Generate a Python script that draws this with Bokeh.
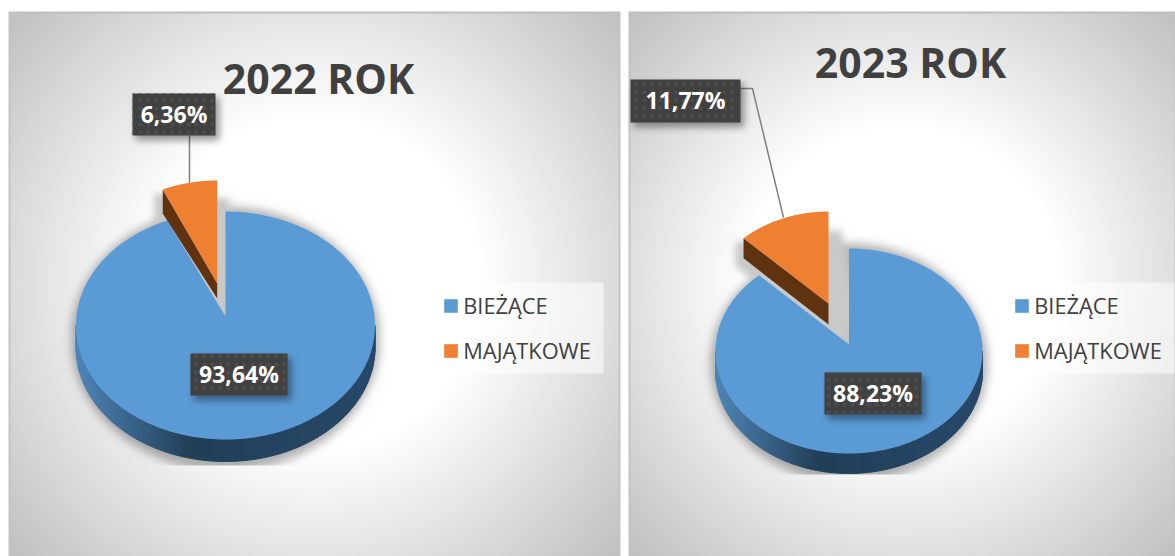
import numpy as np
from bokeh.plotting import figure
from bokeh.layouts import row
from bokeh.models import Range1d, Legend, LegendItem
from bokeh.core.properties import value
from bokeh.embed import file_html
from bokeh.resources import INLINE

categories = ["BIEŻĄCE", "MAJĄTKOWE"]
values_2022 = [93.64, 6.36]
values_2023 = [88.23, 11.77]
titles = ["2022 ROK", "2023 ROK"]

BLUE, ORANGE, BROWN = "#5b9bd5", "#ef7f31", "#5f3210"
FONT = "Open Sans"
PAGE_H = 556


def Y(py):
    return PAGE_H - np.asarray(py, dtype=float)


def arc(cx, cy, rx, ry, t0, t1, n=160):
    t = np.radians(np.linspace(t0, t1, n))
    return cx + rx * np.sin(t), cy - ry * np.cos(t)


def blur(a, r):
    for _ in range(3):
        k = np.ones(2 * r + 1) / (2 * r + 1)
        a = np.apply_along_axis(lambda v: np.convolve(v, k, mode="same"), 0, a)
        a = np.apply_along_axis(lambda v: np.convolve(v, k, mode="same"), 1, a)
    return a


def poly_mask(X, Yp, pts):
    inside = np.zeros(X.shape, dtype=bool)
    n = len(pts)
    for i in range(n):
        x1, y1 = pts[i]
        x2, y2 = pts[(i + 1) % n]
        cond = (y1 > Yp) != (y2 > Yp)
        xc = (x2 - x1) * (Yp - y1) / (y2 - y1 + 1e-9) + x1
        inside ^= cond & (X < xc)
    return inside


def to_rgba(r, g, b, a):
    out = np.zeros(r.shape + (4,), dtype=np.uint8)
    out[..., 0], out[..., 1], out[..., 2] = r, g, b
    out[..., 3] = a
    return out.view(np.uint32).reshape(r.shape)[::-1]


def mix(c1, c2, f):
    c1 = np.array([int(c1[i:i + 2], 16) for i in (1, 3, 5)])
    c2 = np.array([int(c2[i:i + 2], 16) for i in (1, 3, 5)])
    c = (c1 + (c2 - c1) * f).astype(int)
    return "#%02x%02x%02x" % tuple(c)


def panel(title, vals, g):
    x0, x1 = g["fig"]
    w, h = x1 - x0, PAGE_H
    p = figure(width=w, height=h, x_range=Range1d(x0, x1), y_range=Range1d(0, h),
               output_backend="svg", toolbar_location=None, min_border=0,
               outline_line_color=None, background_fill_color="white", border_fill_color="white")
    p.axis.visible = False
    p.grid.visible = False

    X, P = np.meshgrid(np.arange(x0, x1) + .5, np.arange(0, PAGE_H) + .5)
    lx, rx_ = g["panel"]
    pcx, pcy = (lx + rx_) / 2, (11 + PAGE_H) / 2
    R = np.hypot(rx_ - pcx, PAGE_H - pcy)
    r = np.hypot(X - pcx, P - pcy)
    v = 255 - 63 * np.clip((r - .41 * R) / (.59 * R), 0, 1)
    rgb = v.copy()

    cx, cy, rx, ry, apex, depth = g["pie"]
    el = (((X - cx) / (rx + 5)) ** 2 + ((P - cy - depth * .6) / (ry + depth * .6 + 5)) ** 2) < 1
    sh = blur(el.astype(float), 4) * .30
    sh[P > g["clip"]] = 0

    oc, oa, orx, depth_l, depth_r = g["slice"]
    t_o = -360 * vals[1] / 100
    lxo, lyo = arc(oc[0], oc[1], orx, ry, t_o, t_o, 1)
    rxo, ryo = oc[0], oc[1] - ry
    pts = [(rxo + g["sd"][0], ryo + g["sd"][1]), (lxo[0] - 8, lyo[0] + 4), (lxo[0] - 8, lyo[0] + depth_l + 8),
           (oc[0] - 8, oa + depth_r + 8), (cx, apex + 2), (cx + 8, apex - 40)]
    m = blur(poly_mask(X, P, pts).astype(float), 3)
    total = sh * (1 - m) + m * .21
    rgb = rgb * (1 - total)

    rgb[P < 11] = 255
    rgb[(np.abs(P - 12) < 1.2) & (X > lx) & (X < rx_)] = 0xbf
    rgb[(np.abs(X - lx - 1) < 1.2) & (P > 11)] = 0xc4
    rgb[(np.abs(X - rx_ + 1) < 1.2) & (P > 11)] = 0xc4
    rgb[(X < lx) | (X > rx_)] = 255
    rgb = rgb.astype(np.uint8)
    p.image_rgba(image=[to_rgba(rgb, rgb, rgb, np.full_like(rgb, 255))], x=x0, y=0, dw=w, dh=h)

    ts = np.linspace(90, 270, 91)
    xs, ys, cols = [], [], []
    for a, b in zip(ts[:-1], ts[1:]):
        ax, ay = arc(cx, cy, rx, ry, a, b, 3)
        xs.append(list(ax) + list(ax[::-1]))
        ys.append(list(Y(ay)) + list(Y(ay[::-1] + depth)))
        f = (ax[1] - (cx - rx)) / (2 * rx)
        cols.append(mix("#4f86b8", "#223f58", f / .38) if f < .38 else mix("#223f58", "#28496a", (f - .38) / .62))
    p.patches(xs, ys, fill_color=cols, line_color=cols, line_width=1)

    ax, ay = arc(cx, cy, rx, ry, 0, 360 * vals[0] / 100, 240)
    blue = p.patch(list(ax) + [cx], list(Y(ay)) + [float(Y(apex))], fill_color=BLUE, line_color=None)

    bx, by = arc(oc[0], oc[1], orx, ry, t_o, 0, 60)
    wall_x = [bx[0], bx[0], oc[0], oc[0]]
    wall_y = [by[0], by[0] + depth_l, oa + depth_r, oa]
    p.patch(wall_x, list(Y(wall_y)), fill_color=BROWN, line_color=None)
    orange = p.patch(list(bx) + [oc[0]], list(Y(by)) + [float(Y(oa))], fill_color=ORANGE, line_color=None)

    lxs, lys = g["leader"]
    p.line(lxs, list(Y(lys)), line_color="#7f7f7f", line_width=1.5)

    shadow = np.zeros(X.shape)
    for bx0, bx1, by0, by1 in g["boxes"]:
        shadow[(X > bx0 + 3) & (X < bx1 + 4) & (P > by0 + 4) & (P < by1 + 5)] = 1
    shadow = blur(shadow, 3) * .38
    sh_rgb = np.zeros_like(rgb)
    p.image_rgba(image=[to_rgba(sh_rgb, sh_rgb, sh_rgb, (shadow * 255).astype(np.uint8))], x=x0, y=0, dw=w, dh=h)
    for i, (bx0, bx1, by0, by1) in enumerate(g["boxes"]):
        p.quad(left=bx0, right=bx1, top=float(Y(by0)), bottom=float(Y(by1)), fill_color="#404040",
               line_color=None, hatch_pattern="dot", hatch_color="#4d4d4d", hatch_scale=8, hatch_weight=1)
        lab = f"{vals[i]:.2f}".replace(".", ",") + "%"
        p.text(x=[(bx0 + bx1) / 2], y=[float(Y((by0 + by1) / 2 - 1))], text=[lab], text_color="white",
               text_font=value(FONT), text_font_style="bold", text_font_size="23px",
               text_align="center", text_baseline="middle")

    p.text(x=[g["title"][0]], y=[float(Y(g["title"][1] - 2.5))], text=[title], text_color="#404040",
           text_font=value(FONT), text_font_style="bold", text_font_size="41px",
           text_align="center", text_baseline="middle")

    lg = g["legend"]
    p.quad(left=lg[0], right=lg[0] + 172, top=float(Y(282)), bottom=float(Y(373)), fill_color="white",
           fill_alpha=.55, line_color=None)
    leg = Legend(items=[LegendItem(label=categories[0], renderers=[blue]),
                        LegendItem(label=categories[1], renderers=[orange])],
                 location=(lg[0] + 11.25 - x0, PAGE_H - 364.5), orientation="vertical",
                 background_fill_alpha=0, border_line_color=None,
                 glyph_width=17, glyph_height=17, label_standoff=4, label_height=14,
                 label_text_font=FONT, label_text_font_size="21.8px", label_text_color="#404040",
                 spacing=16, padding=0, margin=0, label_text_baseline="middle")
    p.add_layout(leg, "center")
    return p


g1 = dict(fig=(0, 624), panel=(8, 620), pie=(225, 325, 149.5, 114, 316, 22), clip=465,
          slice=((216.7, 294), 283, 140, 24, 15), sd=(12, 18),
          leader=([189, 189], [135, 182]),
          boxes=[(190, 287, 353, 395), (132, 215, 93, 135)],
          title=(318, 80), legend=(431, 373))
g2 = dict(fig=(624, 1175), panel=(628, 1176), pie=(848.5, 350.5, 133.5, 102.5, 344, 20), clip=474,
          slice=((828, 313.5), 303, 126, 20, 21), sd=(12, 18),
          leader=([740, 752, 783], [88, 88, 217]),
          boxes=[(824, 921, 372, 414), (630, 740, 79, 122)],
          title=(910, 64), legend=(1002, 373))

p1 = panel(titles[0], values_2022, g1)
p2 = panel(titles[1], values_2023, g2)
layout = row(p1, p2, spacing=0)
open("out.html", "w").write(file_html(layout, INLINE))
